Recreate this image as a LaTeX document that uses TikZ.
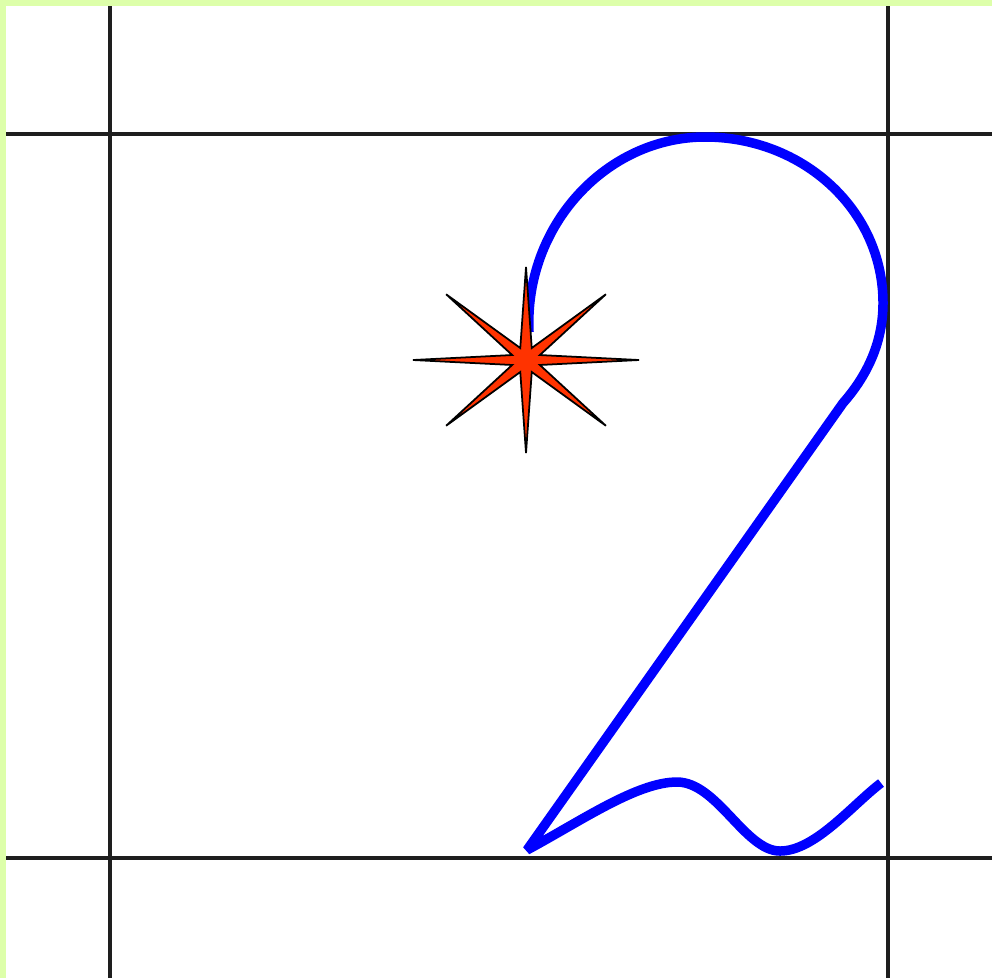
\documentclass[tikz,border=0pt]{standalone}
\usetikzlibrary{calc}
\definecolor{edgegreen}{HTML}{DDFFAA}
\definecolor{starred}{HTML}{FF3300}
\definecolor{gridgray}{HTML}{1E1E1E}
\begin{document}
\begin{tikzpicture}[x=0.01cm, y=-0.01cm,
    gridline/.style={line width=1.1pt, draw=gridgray},
    bluepath/.style={line width=2.7pt, draw=blue, line join=bevel},
    starburst/.style={draw=black, line width=0.5pt, fill=starred, line join=miter}]
    % 背景与边框
    \fill[edgegreen] (0,0) rectangle (992,978);
    \fill[white] (6,6) rectangle (992,978);
    \useasboundingbox (0,0) rectangle (992,978);

    % 绘制网格线
    \draw[gridline] (110,6) -- (110,978);
    \draw[gridline] (888,6) -- (888,978);
    \draw[gridline] (6,134) -- (992,134);
    \draw[gridline] (6,858) -- (992,858);

    % 定义曲线上的点
    \coordinate (S) at (529,332);
    \coordinate (T) at (705,137);
    \coordinate (R) at (883,303);
    \coordinate (E) at (843,403);
    \coordinate (B) at (527,850);
    \coordinate (P) at (677,782);
    \coordinate (Q) at (780,851);
    \coordinate (F) at (881,783);

    % 绘制蓝色曲线：圆弧、斜线与波浪
    \draw[bluepath] (S) .. controls (524,225) and (607,137) .. (T)
        .. controls (803,137) and (883,210) .. (R)
        .. controls (883,345) and (865,378) .. (E)
        -- (B)
        .. controls (581,821) and (637,782) .. (P)
        .. controls (717,782) and (745,851) .. (Q)
        .. controls (815,851) and (852,805) .. (F);

    % 绘制八角星
    \coordinate (O) at (526,360);
    \draw[starburst] ($(O)+(0:113 and 93)$)
        \foreach \k in {0,...,7} {
            -- ($(O)+(45*\k+22.5:15 and 13)$) -- ($(O)+(45*\k+45:113 and 93)$)
        } -- cycle;
\end{tikzpicture}
\end{document}
